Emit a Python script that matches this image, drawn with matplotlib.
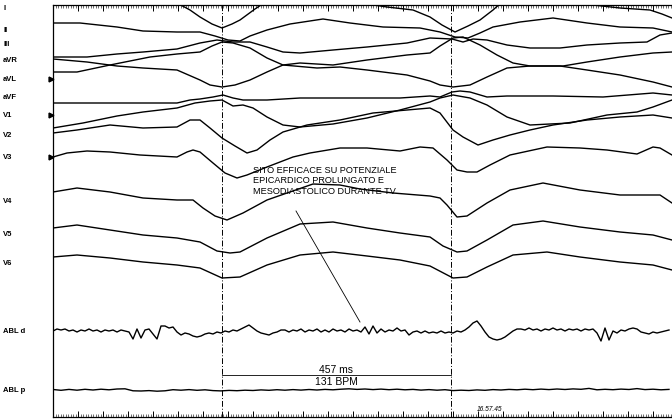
import matplotlib
matplotlib.use("Agg")
import matplotlib.pyplot as plt
import matplotlib.transforms as mtransforms
from matplotlib.ticker import MultipleLocator
import numpy as np

plt.rcParams['font.family'] = ['Liberation Sans', 'DejaVu Sans']

# ---- surface leads: time (ms) / amplitude (arbitrary units, + = up) ----
I_t = [0, 134, 214, 248, 274, 294, 318, 338, 358, 374, 404, 428, 474, 554, 604, 628, 668, 720,
       754, 778, 804, 830, 854, 880, 900, 954, 1034, 1080, 1134, 1194, 1218, 1238]
I_amp = [14, 14, 10, 5, -2, -9, -16, -20, -16, -12, -1, 7, 14, 16, 10, 4, 1, -2,
         -9, -17, -24, -18, -12, -2, 7, 15, 13, 3, 0, -2, -6, -10]

II_t = [0, 54, 128, 180, 248, 294, 324, 350, 374, 394, 428, 474, 540, 594, 660, 734, 774,
        804, 830, 854, 880, 934, 1000, 1068, 1134, 1200, 1238]
II_amp = [7, 7, 3, -1, -2, -2, -6, -10, -11, -6, 0, 6, 11, 7, 3, 2, -2,
          -7, -8, -3, 3, 8, 12, 7, 3, 2, -2]

III_t = [0, 68, 128, 180, 248, 294, 328, 360, 394, 428, 460, 494, 560, 628, 708, 754, 798,
         820, 840, 868, 908, 954, 1014, 1068, 1134, 1188, 1214, 1238]
III_amp = [-13, -13, -10, -8, -5, 1, 4, 2, 2, -3, -8, -9, -6, -3, 1, 6, 5,
           2, 5, 4, -1, -4, -4, -1, 1, 2, 9, 11]

aVR_t = [0, 68, 128, 180, 248, 294, 314, 338, 364, 394, 428, 460, 494, 560, 628, 708, 754,
         774, 800, 820, 854, 888, 920, 954, 1014, 1068, 1134, 1200, 1238]
aVR_amp = [1, -2, -6, -8, -10, -20, -25, -27, -25, -20, -12, -5, -3, -5, 0, 5, 7,
           14, 22, 23, 15, 5, -3, -6, -6, -10, -15, -22, -27]

aVL_t = [0, 48, 114, 194, 248, 294, 318, 338, 360, 394, 428, 460, 528, 574, 628, 708, 754,
         774, 800, 834, 868, 908, 954, 1020, 1068, 1134, 1200, 1238]
aVL_amp = [7, 7, 14, 22, 25, 27, 33, 37, 36, 31, 21, 14, 11, 12, 9, 4, -2,
           -6, -8, -6, 2, 11, 13, 13, 17, 22, 26, 27]

aVF_t = [0, 94, 194, 248, 274, 294, 320, 340, 360, 380, 428, 494, 594, 694, 754, 774, 798,
         814, 834, 868, 908, 1000, 1100, 1200, 1238]
aVF_amp = [-6, -6, -6, -6, -3, -2, 0, 2, -1, -3, -3, -1, -1, -1, 1, 0, 5,
           6, 5, 0, 1, 1, 0, 4, 2]

V1_t = [0, 60, 128, 180, 248, 284, 314, 338, 360, 380, 400, 428, 460, 494, 560, 628, 694,
        754, 774, 800, 834, 868, 908, 954, 1034, 1108, 1168, 1200, 1238]
V1_amp = [-13, -8, -1, 3, 7, 12, 14, 15, 9, 10, 7, -2, -10, -12, -9, -3, 5,
          13, 17, 20, 17, 10, -2, -10, -8, 0, 3, 8, 15]

V2_t = [0, 48, 114, 180, 248, 274, 294, 314, 338, 364, 388, 408, 434, 460, 508, 574, 640,
        708, 754, 774, 800, 820, 850, 880, 914, 954, 1000, 1068, 1134, 1200, 1238]
V2_amp = [2, 5, 10, 7, 8, 15, 15, 7, -3, -11, -18, -15, -5, 3, 10, 15, 22,
          25, 27, 22, 5, -2, -10, -5, 0, 5, 10, 15, 18, 20, 17]

V3_t = [0, 28, 68, 114, 174, 248, 268, 280, 294, 320, 344, 368, 388, 428, 480, 514, 574,
        628, 694, 734, 760, 788, 808, 828, 848, 874, 914, 988, 1054, 1108, 1168, 1200, 1214, 1238]
V3_amp = [0, 4, 6, 5, 2, 0, 5, 7, 5, -6, -16, -21, -18, -10, 0, 4, 9,
          9, 6, 10, 9, -3, -13, -15, -15, -8, 2, 10, 9, 7, 3, 10, 9, 2]

V4_t = [0, 48, 114, 180, 248, 280, 300, 324, 348, 380, 428, 468, 520, 574, 614, 680, 754,
        774, 788, 808, 828, 868, 914, 980, 1054, 1134, 1214, 1238]
V4_amp = [9, 13, 9, 3, 1, 1, -7, -15, -19, -12, 1, 8, 17, 16, 12, 8, 5,
          3, -4, -16, -15, -2, 11, 18, 11, 6, 6, -2]

V5_t = [0, 48, 114, 180, 248, 294, 328, 354, 374, 428, 494, 560, 628, 694, 754, 780, 808,
        828, 868, 920, 980, 1054, 1134, 1200, 1238]
V5_amp = [6, 9, 4, -1, -4, -8, -17, -19, -18, -4, 10, 12, 6, 1, -3, -12, -18,
          -17, -6, 9, 13, 7, 2, -1, -6]

V6_t = [0, 48, 114, 180, 248, 294, 338, 374, 428, 494, 560, 628, 694, 754, 800, 828, 868,
        920, 988, 1054, 1134, 1200, 1238]
V6_amp = [6, 8, 5, 1, -2, -5, -15, -14, -2, 8, 11, 7, 3, -3, -15, -14, -4,
          8, 11, 6, 1, -2, -7]

# ---- intracardiac channels, sampled every 8 ms (ABL d) and 16 ms (ABL p) ----
ABLd_dt = 8
ABLd_amp = [0, 2, 1, 2, 0, 1, -1, 1, 0, 2, 0, 1, -1, 1, 0, 1, -1, 1, 0,
            -1, -8, 2, -7, 1, 2, -3, -8, 5,
            5, 3, 4, -1, -4, -2, -3, -5, -6, -5, -3, -2, -3,
            -1, -2, 0, -1, 1, 0, 2, 4, 6, 3, 0, -2, -3, -4, -2, -1, 1,
            1, -1, 1, 0, 2, -1, 1, 0, 2, -1, 1, -1, 2, 0, 1, -1, 2, 0, 1, -1,
            4, -3, 5, -2, 2, -1, 1, 0, 3, 0, 1, -4, -1, 0, -2, 0, -2, -1, -2, 0,
            -2, -1, -2, 0, -1, 1, 4, 8, 10, 5, -1, -6, -8, -9, -8, -6, -3, 0, 2, 2,
            1, 3, 1, 2, 0, 2, 1, 3, 1, 2, 0, 2, 1, 2, 0, 2, 1, 2,
            -2, -10, 3, -9, 0, -2, 1, 0, 2, 3, 2, -1, -2, -3, -1, -2, -1, 0, 1]

ABLp_dt = 16
ABLp_amp = [0.5, -0.3, 0.6, -0.2, 0.7, 0, 0.8, 0.2, 1.0, 1.2, -0.8, -1.0, -0.6, -1.2, -0.8, 0.3,
            -0.2, 0.4, -0.3, 0.2, -0.6, -0.9, -0.4, -0.7, -0.2, -0.5, 0.1, -0.3, 0.3, -0.2, 0.4,
            -0.1, 0.5, 0, 0.6, 0.2, 0.8, 1.2, 0.6, 1.0, 0.4, 0.9, 0.3, 0.8, 0.2, 0.6, -0.1, 0.4,
            -0.2, 0.3, -0.6, -0.2, -0.5, 0.1, -0.3, 0.4, 0, 0.6, 0.2, 0.8, 0.3, 0.9, 0.4, 1.0,
            0.5, 1.1, 0.7, 1.6, 0.2, 0.7, 0.3, 0.9, 0.5, 1.4, 0.4, 0.8, 0.2, 0.6]

# ---- annotations ----
beats_ms = [338, 795]
cycle_ms = 457
bpm = 131
note = "SITO EFFICACE SU POTENZIALE\nEPICARDICO PROLUNGATO E\nMESODIASTOLICO DURANTE TV"
clock = "16.57.45"
marked_leads = ['aVL', 'V1', 'V3']

# layout: row position of each channel (screen units, top = 0)
rows = {'I': 8, 'II': 30, 'III': 44, 'aVR': 60, 'aVL': 79, 'aVF': 97, 'V1': 115,
        'V2': 135, 'V3': 157, 'V4': 201, 'V5': 234, 'V6': 263, 'ABL d': 331, 'ABL p': 390}

surface = [('I', I_t, I_amp), ('II', II_t, II_amp), ('III', III_t, III_amp),
           ('aVR', aVR_t, aVR_amp), ('aVL', aVL_t, aVL_amp), ('aVF', aVF_t, aVF_amp),
           ('V1', V1_t, V1_amp), ('V2', V2_t, V2_amp), ('V3', V3_t, V3_amp),
           ('V4', V4_t, V4_amp), ('V5', V5_t, V5_amp), ('V6', V6_t, V6_amp)]

fig = plt.figure(figsize=(6.72, 4.2), dpi=100)
ax = fig.add_axes([53 / 672, 3 / 420, 619 / 672, 412 / 420])
ax.set_xlim(0, 1238)
ax.set_ylim(417, 5)

trace = dict(color='black', lw=1.0, solid_joinstyle='round')
for name, t, amp in surface:
    ax.plot(t, rows[name] - np.array(amp), **trace)

t_d = np.arange(len(ABLd_amp)) * ABLd_dt
ax.plot(t_d, rows['ABL d'] - np.array(ABLd_amp), **trace)
t_p = np.arange(len(ABLp_amp)) * ABLp_dt
ax.plot(t_p, rows['ABL p'] - np.array(ABLp_amp), **trace)

# calipers
for b in beats_ms:
    ax.axvline(b, color='black', lw=0.7, ls=(0, (6, 2, 1, 2)))
ax.plot(beats_ms, [375, 375], color='black', lw=0.6)
mid = (beats_ms[0] + beats_ms[1]) / 2
ax.text(mid, 369.5, f"{cycle_ms} ms", ha='center', va='center', fontsize=7.5)
ax.text(mid, 381.5, f"{bpm} BPM", ha='center', va='center', fontsize=7.5)

# note and pointer
ax.text(400, 166, note, ha='left', va='top', fontsize=6.6, linespacing=1.2)
ax.plot([486, 614], [211, 322], color='black', lw=0.6)
ax.text(848, 413, clock, ha='left', va='bottom', fontsize=4.8, style='italic')

# channel labels and markers
lab_tr = mtransforms.blended_transform_factory(fig.transFigure, ax.transData)
for name, y in rows.items():
    fig.text(3 / 672, y, name, transform=lab_tr, ha='left', va='center',
             fontsize=5.5, fontweight='bold')
for name in marked_leads:
    ax.plot([-5], [rows[name]], marker='>', color='black', ms=3.5, clip_on=False)

# ruler frame
for s in ['top', 'bottom', 'left']:
    ax.spines[s].set_linewidth(0.9)
ax.spines['right'].set_visible(False)
ax.xaxis.set_major_locator(MultipleLocator(50))
ax.xaxis.set_minor_locator(MultipleLocator(5))
ax.tick_params(axis='x', which='both', direction='in', top=True, bottom=True,
               labelbottom=False)
ax.tick_params(axis='x', which='major', length=4, width=0.7)
ax.tick_params(axis='x', which='minor', length=2, width=0.4)
ax.set_yticks([])

fig.savefig('out.png', dpi=100)
